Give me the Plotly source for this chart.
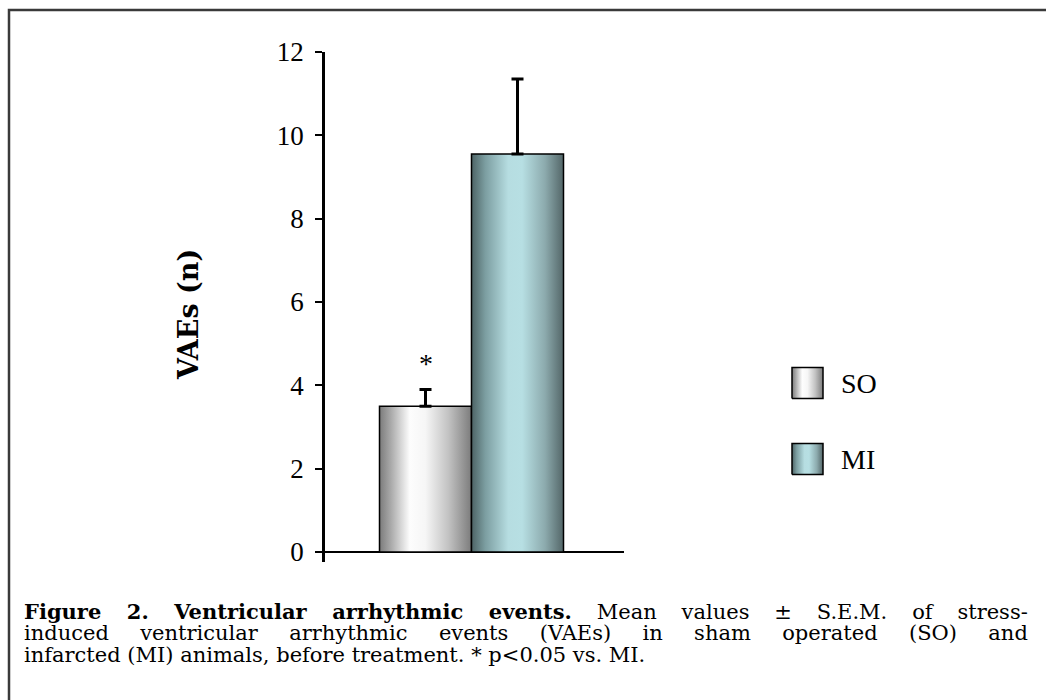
import plotly.graph_objects as go

# ---------------- data ----------------
categories = ["SO", "MI"]
means = [3.5, 9.55]
sem = [0.4, 1.8]
yticks = [0, 2, 4, 6, 8, 10, 12]
sig_labels = ["*", ""]
y_title = "VAEs (n)"
caption_lines = [
    "<b>Figure 2. Ventricular arrhythmic events.</b> Mean values \u00b1 S.E.M. of stress-",
    "induced ventricular arrhythmic events (VAEs) in sham operated (SO) and",
    "infarcted (MI) animals, before treatment. * p&lt;0.05 vs. MI.",
]

# ---------------- styles ----------------
W, H = 1046, 700
BAR_W = 1.0
SERIF = "Liberation Serif"
CAP_FONT = "DejaVu Serif"
scales = {
    "SO": [[0, "#7b7b7b"], [0.12, "#a8a8a8"], [0.33, "#fdfdfd"], [0.5, "#f6f6f6"],
           [0.75, "#c2c2c2"], [1, "#7c7c7c"]],
    "MI": [[0, "#4d6365"], [0.15, "#7c9ea1"], [0.4, "#b6dde1"], [0.55, "#b7dfe3"],
           [0.8, "#8caaad"], [1, "#536668"]],
}

fig = go.Figure()

# bars as gradient-filled polygons on the main axes
for i, (cat, m) in enumerate(zip(categories, means)):
    x0, x1 = i - BAR_W / 2, i + BAR_W / 2
    fig.add_trace(go.Scatter(
        x=[x0, x0, x1, x1, x0], y=[0, m, m, 0, 0],
        mode="lines", fill="toself",
        fillgradient=dict(type="horizontal", colorscale=scales[cat]),
        line=dict(color="black", width=1.5),
        hoverinfo="skip", showlegend=False, xaxis="x", yaxis="y",
    ))

# error bars (upper only)
fig.add_trace(go.Scatter(
    x=list(range(len(categories))), y=means, mode="markers",
    marker=dict(size=1, color="rgba(0,0,0,0)"),
    error_y=dict(type="data", array=sem, arrayminus=[0] * len(sem), symmetric=False,
                 thickness=3, width=6, color="black"),
    hoverinfo="skip", showlegend=False, xaxis="x", yaxis="y",
))

# legend swatches on a pixel-space axis pair covering the whole page
legend_y = [383, 459]
for cat, ly in zip(categories, legend_y):
    bx0, bx1, by0, by1 = 792, 823, ly - 15.5, ly + 15.5
    fig.add_trace(go.Scatter(
        x=[bx0, bx0, bx1, bx1, bx0], y=[by1, by0, by0, by1, by1],
        mode="lines", fill="toself",
        fillgradient=dict(type="horizontal", colorscale=scales[cat]),
        line=dict(color="black", width=1.5),
        hoverinfo="skip", showlegend=False, xaxis="x2", yaxis="y2",
    ))

annotations = []
for cat, ly in zip(categories, legend_y):
    annotations.append(dict(x=839, y=ly, xref="x2", yref="y2", text=cat, showarrow=False,
                            xanchor="left", yanchor="middle",
                            font=dict(family=SERIF, size=28, color="black")))

# significance marker
for i, (lab, m, s) in enumerate(zip(sig_labels, means, sem)):
    if lab:
        annotations.append(dict(x=i, y=m + s + 0.62, xref="x", yref="y", text=lab,
                                showarrow=False, xanchor="center", yanchor="middle",
                                font=dict(family=SERIF, size=28, color="black")))

# y-axis title
annotations.append(dict(x=188, y=315, xref="x2", yref="y2", text="<b>" + y_title + "</b>",
                        textangle=-90, showarrow=False, xanchor="center", yanchor="middle",
                        font=dict(family=CAP_FONT, size=27, color="black")))

# caption
cap_y = [611, 633, 655]
word_sp = [18.2, 24.7, 0]
for txt, cy, ws in zip(caption_lines, cap_y, word_sp):
    annotations.append(dict(x=22, y=cy, xref="x2", yref="y2",
                            text=f'<span style="word-spacing:{ws}px">{txt}</span>',
                            showarrow=False, xanchor="left", yanchor="middle",
                            font=dict(family=CAP_FONT, size=21, color="black")))

shapes = [dict(type="rect", xref="x2", yref="y2", x0=9, y0=10, x1=1300, y1=900,
               line=dict(color="#3a3a3a", width=2.5), fillcolor="rgba(0,0,0,0)", layer="above")]

# main axes geometry (pixels)
ax_left, ax_right, ax_top, ax_bot = 325, 624, 52, 562
px_per_x = 92.0
x_center0 = 425.5
x_range = [(ax_left - x_center0) / px_per_x, (ax_right - x_center0) / px_per_x]
px_per_y = (552 - 52) / 12.0
y_range = [-(ax_bot - 552) / px_per_y, 12]

fig.update_layout(
    width=W, height=H, autosize=False,
    margin=dict(l=0, r=0, t=0, b=0, pad=0, autoexpand=False),
    paper_bgcolor="white", plot_bgcolor="rgba(0,0,0,0)",
    showlegend=False,
    xaxis=dict(domain=[ax_left / W, ax_right / W], range=x_range, visible=True,
               showline=False, showgrid=False, zeroline=False, showticklabels=False,
               ticks="", fixedrange=True, anchor="y", automargin=False),
    yaxis=dict(domain=[(H - ax_bot) / H, (H - ax_top) / H], range=y_range,
               tickmode="array", tickvals=yticks, ticktext=[str(t) for t in yticks],
               showline=True, linecolor="black", linewidth=2.5,
               ticks="outside", ticklen=7, tickwidth=2, tickcolor="black",
               showgrid=False, zeroline=True, zerolinecolor="black", zerolinewidth=2,
               tickfont=dict(family=SERIF, size=27, color="black"),
               ticklabelstandoff=6, fixedrange=True, anchor="x", automargin=False),
    xaxis2=dict(domain=[0, 1], range=[0, W], visible=False, anchor="y2", fixedrange=True,
                automargin=False),
    yaxis2=dict(domain=[0, 1], range=[H, 0], visible=False, anchor="x2", fixedrange=True,
                automargin=False),
    annotations=annotations,
    shapes=shapes,
)

fig.write_html("out.html")
